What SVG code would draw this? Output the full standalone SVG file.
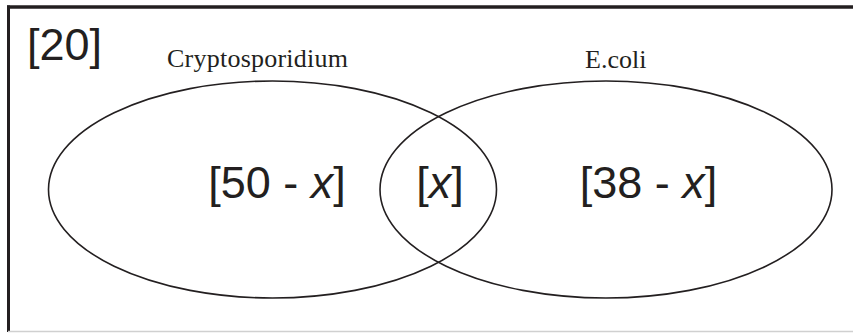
<svg xmlns="http://www.w3.org/2000/svg" width="853" height="333" viewBox="0 0 853 333">
<style>
.frame{stroke:#231f20;fill:none}
.set{fill:none;stroke:#231f20;stroke-width:1.6}
.num{font-family:"Liberation Sans",Arial,sans-serif;font-size:45px;fill:#231f20}
.lbl{font-family:"Liberation Serif","Times New Roman",serif;font-size:26px;fill:#231f20}
.it{font-style:italic}
</style>
<rect width="853" height="333" fill="#ffffff"/>
<g id="frame">
<line class="frame" x1="7" y1="7" x2="853" y2="7" stroke-width="3.5"/>
<line class="frame" x1="8.5" y1="5.5" x2="8.5" y2="332" stroke-width="3"/>
<line x1="8" y1="331.5" x2="853" y2="331.5" stroke="#d0d0d0" stroke-width="1.5"/>
</g>
<g id="total">
<text class="num" x="27" y="60">[20]</text>
</g>
<g id="set-cryptosporidium">
<ellipse class="set" cx="272.5" cy="189.5" rx="224" ry="108.5"/>
<text class="lbl" x="167" y="67" textLength="181">Cryptosporidium</text>
</g>
<g id="set-ecoli">
<ellipse class="set" cx="606" cy="189.5" rx="226" ry="108.5"/>
<text class="lbl" x="585" y="68">E.coli</text>
</g>
<g id="region-crypto-only">
<text class="num" x="277" y="198" text-anchor="middle">[50 - <tspan class="it">x</tspan>]</text>
</g>
<g id="region-both">
<text class="num" x="440" y="198" text-anchor="middle">[<tspan class="it">x</tspan>]</text>
</g>
<g id="region-ecoli-only">
<text class="num" x="648.5" y="198" text-anchor="middle">[38 - <tspan class="it">x</tspan>]</text>
</g>
<g id="connectors"></g>
</svg>
